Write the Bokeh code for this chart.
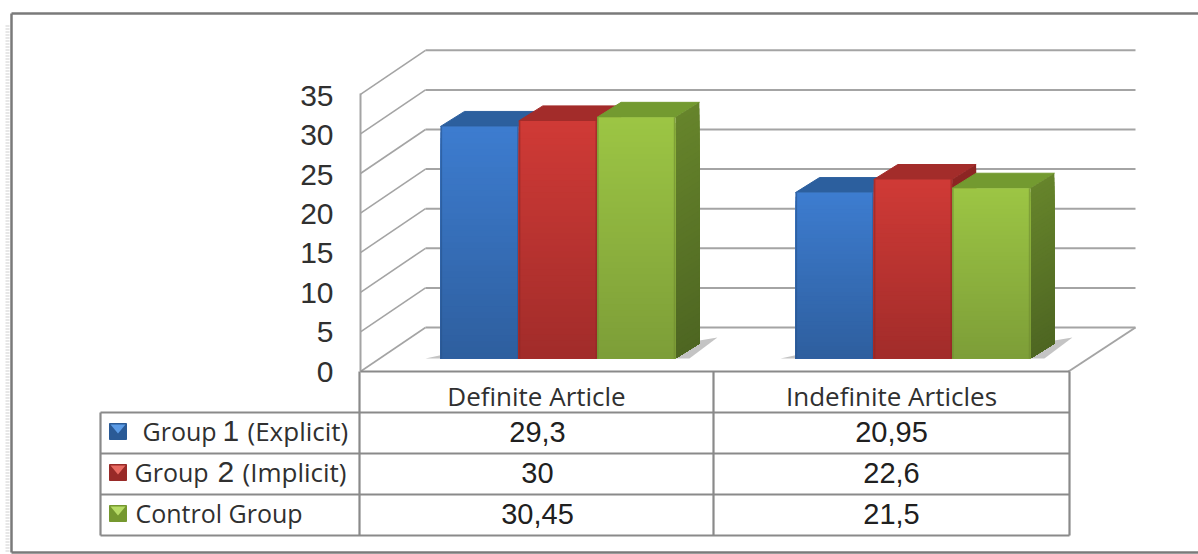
from bokeh.embed import file_html
from bokeh.models import ColumnDataSource, Range1d
from bokeh.plotting import figure
from bokeh.resources import INLINE
from bokeh.core.properties import value

# Survey results per article type
categories = ["Definite Article", "Indefinite Articles"]
group1 = [29.3, 20.95]
group2 = [30, 22.6]
control = [30.45, 21.5]
ticks = [0, 5, 10, 15, 20, 25, 30, 35]
cell_labels = [["29,3", "20,95"], ["30", "22,6"], ["30,45", "21,5"]]

W, H = 1198, 554
UNIT = 7.92          # pixels per data unit
BASE = 358           # pixel row of the bars' base
FRONT0 = 371         # pixel row of zero on the front edge of the wall
BACK0 = 327          # pixel row of zero on the back wall
WALL_X0, WALL_X1, BACK_X1 = 360, 425, 1135
DX, DY = 24, 15      # depth offset of the bars
GRID = "#a4a4a4"
TABLE = "#8a8a8a"
FONT = "Open Sans"
NUM_FONT = "Liberation Sans"

p = figure(width=W, height=H, output_backend="svg", toolbar_location=None,
           x_range=Range1d(0, W),
           y_range=Range1d((BASE - H) / UNIT, BASE / UNIT),
           min_border=0, outline_line_color=None)
p.xaxis.visible = False
p.yaxis.visible = False
p.grid.visible = False
p.background_fill_color = "white"
p.extra_y_ranges = {"px": Range1d(H, 0)}


def hex_rgb(h):
    return tuple(int(h[i:i + 2], 16) for i in (1, 3, 5))


def mix(a, b, t):
    ca, cb = hex_rgb(a), hex_rgb(b)
    return "#%02x%02x%02x" % tuple(round(x + (y - x) * t) for x, y in zip(ca, cb))


def px_lines(xs0, ys0, xs1, ys1, color, width):
    p.segment(xs0, ys0, xs1, ys1, y_range_name="px", line_color=color, line_width=width)


# Outer frame: open on the right, with a speckled shadow down the left
px_lines([11, 11, 11], [13, 13, 552], [W, 11, W], [13, 552, 552], "#7a7a7a", 2.5)
p.segment([7], [25], [7], [552], y_range_name="px", line_color="#cfcfcf", line_width=4, line_dash="1 2")

# Wall and floor of the 3-D plot area
levels = list(range(8))
px_lines([WALL_X1] * 8, [BACK0 - 39.6 * k for k in levels], [BACK_X1] * 8,
         [BACK0 - 39.6 * k for k in levels], GRID, 2)
px_lines([WALL_X0] * 8, [FRONT0 - 39.6 * k for k in levels], [WALL_X1] * 8,
         [BACK0 - 39.6 * k for k in levels], GRID, 1.6)
px_lines([WALL_X0, 1068], [93, 371], [WALL_X0, BACK_X1], [371, 327], GRID, 2)

series = [
    (group1, "#3d7ccf", "#2e5f9f", "#2c5f9e", "#264f85", "#214671"),
    (group2, "#cf3a36", "#a22c2a", "#a32c2a", "#8d2523", "#7c2020"),
    (control, "#9cc544", "#7d9e38", "#739a30", "#66842b", "#4e6622"),
]
group_left = [440, 795]
BAR_W = 78.3
SLICES = 40

for g, left0 in enumerate(group_left):
    # Floor shadows on either side of the group
    right = left0 + 3 * BAR_W
    p.patch([left0 - 15, left0, left0 + 8], [BASE, BASE, BASE - 5], y_range_name="px",
            fill_color="#c4c4c4", line_color=None)
    p.patch([right, right + DX, right + DX + 18, right + 14],
            [BASE, BASE - 18, BASE - 21, BASE],
            y_range_name="px", fill_color="#c4c4c4", line_color=None)

    for s, (vals, light, dark, top, side_l, side_d) in enumerate(series):
        v = vals[g]
        x0 = left0 + s * BAR_W
        x1 = x0 + BAR_W
        off = DY / UNIT

        # Top face
        p.patch([x0, x0 + DX, x1 + DX, x1], [v, v + off, v + off, v],
                fill_color=top, line_color=top, line_width=1)

        # Gradient steps are painted tallest first, so neighbours overlap without seams
        heights = [v * (i + 1) / SLICES for i in range(SLICES)][::-1]
        shades = [1 - i / (SLICES - 1) for i in range(SLICES)]

        # Right side face, darkening towards the floor
        for h, t in zip(heights, shades):
            c = mix(side_d, side_l, t)
            p.patch([x1, x1 + DX, x1 + DX, x1], [0, off, h + off, h],
                    fill_color=c, line_color=None)

        # Front face with a vertical gradient
        colors = [mix(dark, light, t) for t in shades]
        src = ColumnDataSource(dict(l=[x0] * SLICES, r=[x1] * SLICES, b=[0] * SLICES,
                                    t=heights, c=colors))
        p.quad(left="l", right="r", bottom="b", top="t", source=src,
               fill_color="c", line_color=None)

        # Slightly darker edges on the front face
        edge = mix(dark, "#000000", 0.12)
        p.segment([x0 + 0.8, x1 - 0.8], [0, 0], [x0 + 0.8, x1 - 0.8], [v, v],
                  line_color=edge, line_width=1.6, line_alpha=0.6)

# Value axis labels on the wall's front edge
p.text([333] * len(ticks), [371 - 39.4 * k for k in range(len(ticks))],
       text=[str(t) for t in ticks], y_range_name="px", text_align="right",
       text_baseline="middle", text_font=value(NUM_FONT), text_font_size="30px",
       text_color="#303030")

# Data table grid
px_lines([WALL_X0, 100, 100, 100, 100, 100, 359, 713, 1069],
         [371, 412, 453, 494, 535, 412, 371, 371, 371],
         [1069, 1069, 1069, 1069, 1069, 100, 359, 713, 1069],
         [371, 412, 453, 494, 535, 535, 535, 535, 535], TABLE, 2.2)

centers = [536, 891]
p.text(centers, [395.5, 395.5], text=categories, y_range_name="px", text_align="center",
       text_baseline="middle", text_font=value(FONT), text_font_size="26px", text_color="#303030")

rows = [431, 472, 513]
for r, row in enumerate(cell_labels):
    p.text([537, 891], [rows[r]] * 2, text=row, y_range_name="px", text_align="center",
           text_baseline="middle", text_font=value(NUM_FONT), text_font_size="29px",
           text_color="#202020")

# Legend keys in the table's first column
keys = [("#5b9be6", "#2a5a96"), ("#e86a62", "#982a28"), ("#b7dc66", "#75982f")]
for r, (hi, lo) in enumerate(keys):
    y = rows[r]
    p.quad(left=[109], right=[126], top=[y - 8], bottom=[y + 8], y_range_name="px",
           fill_color=lo, line_color=lo)
    p.patch([110, 125, 117.5], [y - 7, y - 7, y + 2], y_range_name="px", fill_color=hi, line_color=None)

legend_parts = [
    [(142, "Group", FONT, 25), (222, "1", NUM_FONT, 30), (247, "(Explicit)", FONT, 26)],
    [(134, "Group", FONT, 25), (217, "2", NUM_FONT, 30), (242, "(Implicit)", FONT, 26)],
    [(135, "Control Group", FONT, 25)],
]
for r, parts in enumerate(legend_parts):
    for x, txt, fam, size in parts:
        p.text([x], [rows[r] - 1], text=[txt], y_range_name="px", text_align="left",
               text_baseline="middle", text_font=value(fam), text_font_size=f"{size}px",
               text_color="#303030")

open("out.html", "w").write(file_html(p, INLINE))
